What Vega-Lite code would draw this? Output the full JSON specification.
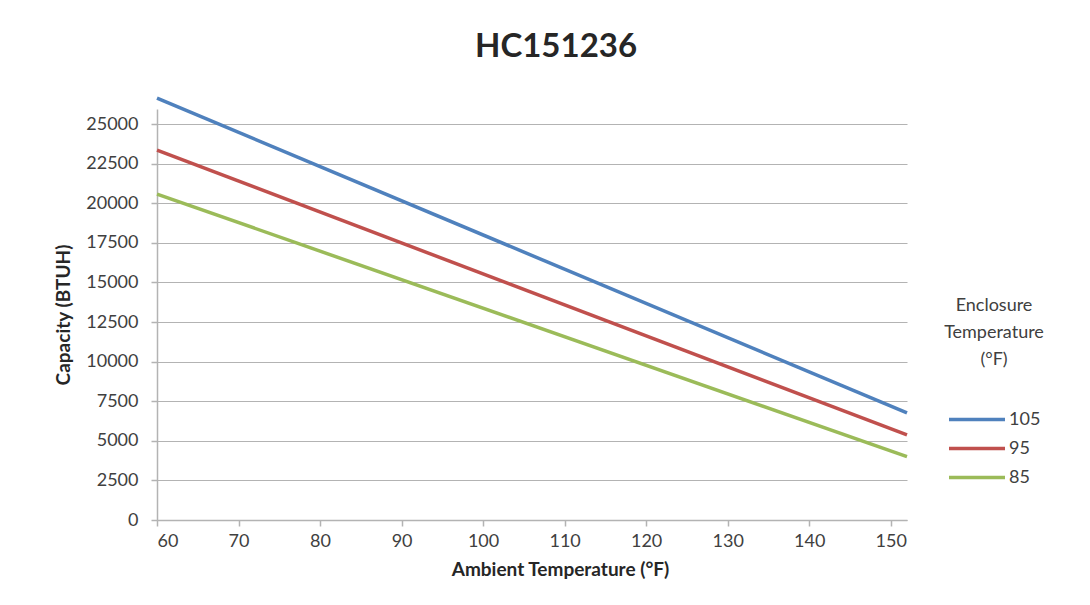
{
  "$schema": "https://vega.github.io/schema/vega-lite/v6.json",
  "autosize": "none",
  "width": 750,
  "height": 411,
  "padding": {"left": 157, "top": 109, "right": 183, "bottom": 85},
  "background": "white",
  "title": {
    "text": "HC151236",
    "font": "Lato",
    "fontSize": 33,
    "fontWeight": "bold",
    "color": "#262626",
    "anchor": "middle",
    "dx": 24,
    "offset": 27
  },
  "config": {
    "view": {"stroke": null},
    "font": "Lato"
  },
  "data": {
    "values": [
      {"ambient": 60, "capacity": 26640, "enclosure": "105"},
      {"ambient": 152, "capacity": 6760, "enclosure": "105"},
      {"ambient": 60, "capacity": 23360, "enclosure": "95"},
      {"ambient": 152, "capacity": 5370, "enclosure": "95"},
      {"ambient": 60, "capacity": 20580, "enclosure": "85"},
      {"ambient": 152, "capacity": 4000, "enclosure": "85"}
    ]
  },
  "mark": {"type": "line", "strokeWidth": 3.5, "clip": false},
  "encoding": {
    "x": {
      "field": "ambient",
      "type": "quantitative",
      "scale": {"domain": [60, 152], "nice": false, "zero": false},
      "axis": {
        "title": "Ambient Temperature (°F)",
        "values": [60, 70, 80, 90, 100, 110, 120, 130, 140, 150],
        "grid": false,
        "domainColor": "#b3b3b3",
        "domainWidth": 1.5,
        "tickColor": "#b3b3b3",
        "tickWidth": 1.5,
        "tickSize": 6,
        "labelFont": "Lato",
        "labelFontSize": 18,
        "labelColor": "#404040",
        "labelPadding": 6,
        "titleFont": "Lato",
        "titleFontSize": 19,
        "titleFontWeight": "bold",
        "titleColor": "#262626",
        "titleX": 403,
        "titleAnchor": null,
        "titleAlign": "center",
        "titlePadding": 10
      }
    },
    "y": {
      "field": "capacity",
      "type": "quantitative",
      "scale": {"domain": [0, 25950], "nice": false},
      "axis": {
        "title": "Capacity (BTUH)",
        "values": [0, 2500, 5000, 7500, 10000, 12500, 15000, 17500, 20000, 22500, 25000],
        "format": "d",
        "grid": true,
        "gridColor": "#b3b3b3",
        "gridWidth": 1.2,
        "domainColor": "#b3b3b3",
        "domainWidth": 1.5,
        "tickColor": "#b3b3b3",
        "tickWidth": 1.5,
        "tickSize": 6,
        "labelFont": "Lato",
        "labelFontSize": 18,
        "labelColor": "#404040",
        "labelPadding": 13,
        "titleFont": "Lato",
        "titleFontSize": 19,
        "titleFontWeight": "bold",
        "titleColor": "#262626",
        "titlePadding": 12
      }
    },
    "color": {
      "field": "enclosure",
      "type": "nominal",
      "sort": ["105", "95", "85"],
      "scale": {"domain": ["105", "95", "85"], "range": ["#4F81BD", "#C0504D", "#9BBB59"]},
      "legend": {
        "title": ["Enclosure", "Temperature", "(°F)"],
        "orient": "none",
        "legendX": 787,
        "legendY": 188,
        "titleFont": "Lato",
        "titleFontSize": 18,
        "titleFontWeight": "normal",
        "titleColor": "#404040",
        "titleLineHeight": 27,
        "titleAlign": "center",
        "titleAnchor": "middle",
        "titlePadding": 36,
        "labelFont": "Lato",
        "labelFontSize": 18,
        "labelColor": "#404040",
        "labelOffset": 2,
        "symbolType": "stroke",
        "symbolSize": 3136,
        "symbolStrokeWidth": 3.5,
        "clipHeight": 29,
        "rowPadding": 0
      }
    }
  }
}
